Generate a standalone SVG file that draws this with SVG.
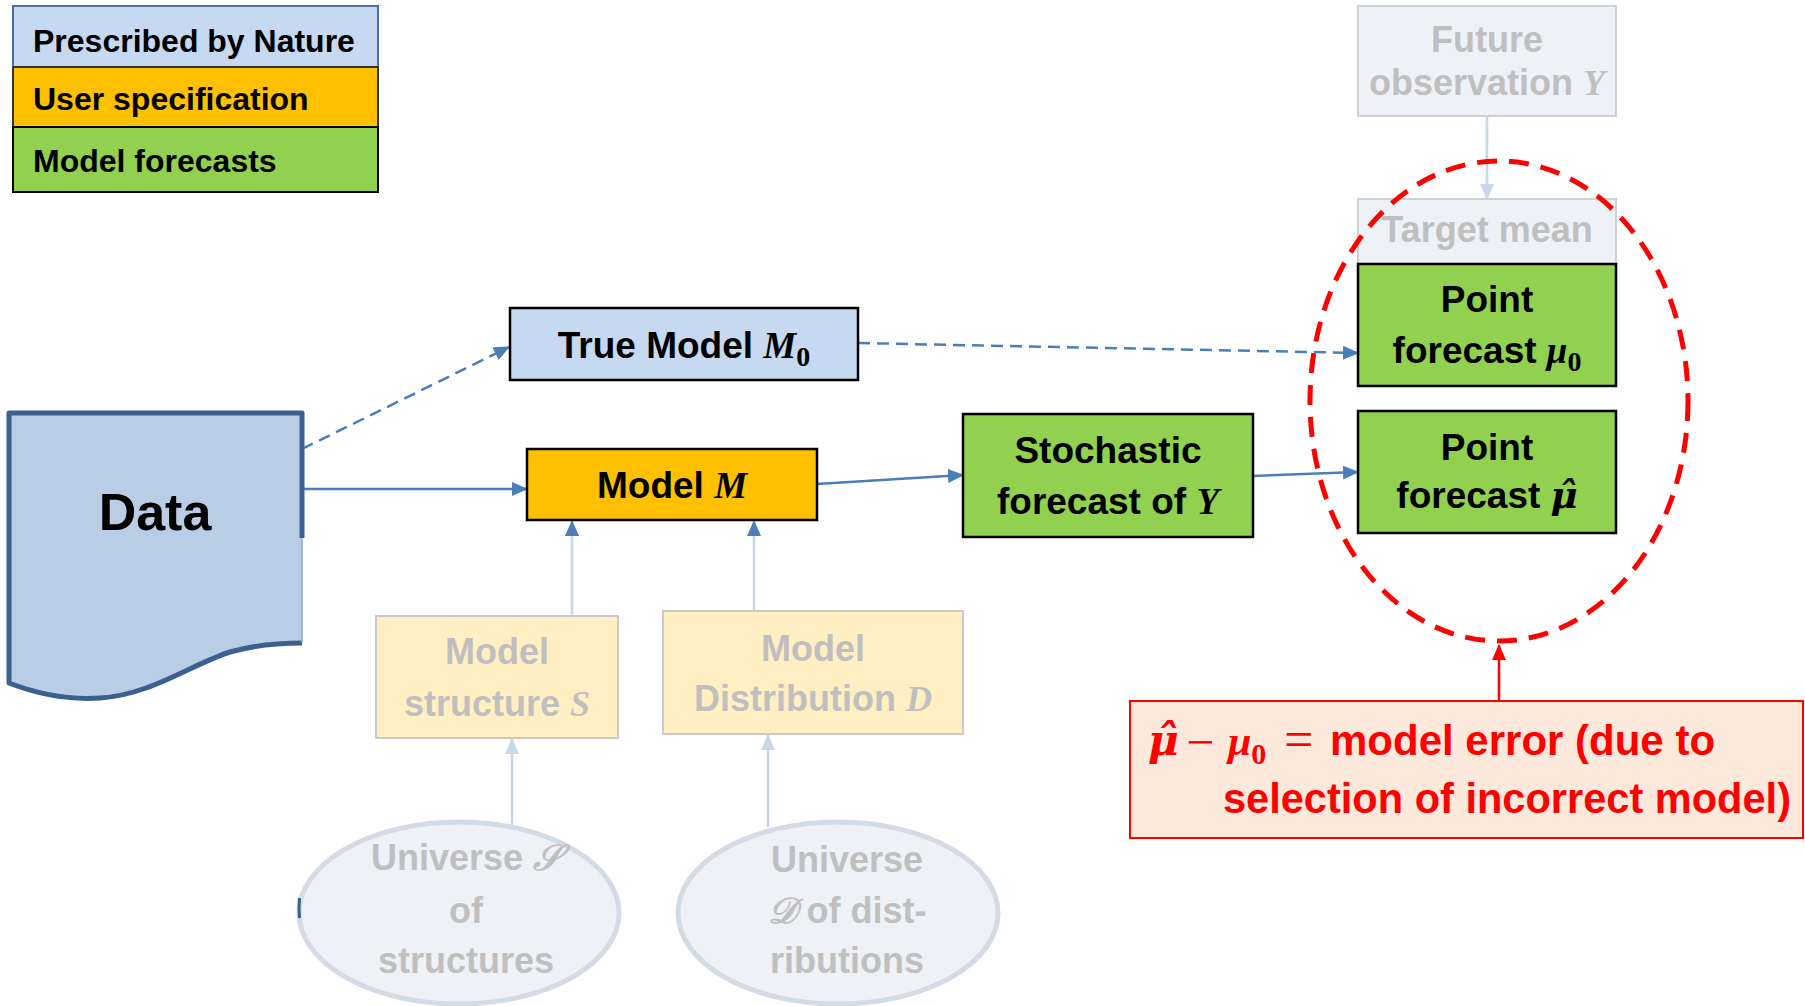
<svg xmlns="http://www.w3.org/2000/svg" width="1805" height="1006" viewBox="0 0 1805 1006">
  <style>
    .t { font-family: "Liberation Sans", Arial, sans-serif; font-weight: bold; }
    .m { font-family: "Liberation Serif", "DejaVu Serif", serif; font-style: italic; font-weight: bold; }
    .hat { font-family: "DejaVu Serif", "Liberation Serif", serif; font-style: italic; font-weight: bold; }
    .sub { font-family: "Liberation Serif", "DejaVu Serif", serif; font-style: normal; font-weight: bold; }
    .op { font-family: "Liberation Serif", "DejaVu Serif", serif; font-style: normal; font-weight: normal; }
    .lbl { font-size: 37px; fill: #000; text-anchor: middle; }
    .dim { font-size: 36px; fill: #BFBFBF; text-anchor: middle; }
    .leg { font-size: 32px; fill: #000; }
    .red { font-size: 42px; fill: #FF0000; }
    .blue { fill: #C6D9F1; stroke: #000; stroke-width: 2.5; }
    .gold { fill: #FFC000; stroke: #000; stroke-width: 2.5; }
    .green { fill: #92D050; stroke: #000; stroke-width: 2.5; }
    .fadeY { fill: #FFEFC3; stroke: #C9C9C9; stroke-width: 2; }
    .fadeB { fill: #EEF2F7; stroke: #D0D0D0; stroke-width: 2; }
    .uni { fill: #EEF2F7; stroke: #D3DBE6; stroke-width: 5; }
    .conn { stroke: #4A7EBB; stroke-width: 2.5; fill: none; }
    .dash { stroke-dasharray: 12 7; }
    .faint { stroke: #C8D7EA; stroke-width: 2.5; fill: none; }
  </style>
  <defs>
    <marker id="ah" markerUnits="userSpaceOnUse" markerWidth="16" markerHeight="14" refX="15" refY="7" orient="auto">
      <path d="M0,0 L16,7 L0,14 Z" fill="#4A7EBB"/>
    </marker>
    <marker id="ahFaint" markerUnits="userSpaceOnUse" markerWidth="16" markerHeight="14" refX="15" refY="7" orient="auto">
      <path d="M0,0 L16,7 L0,14 Z" fill="#C8D7EA"/>
    </marker>
    <marker id="ahRed" markerUnits="userSpaceOnUse" markerWidth="16" markerHeight="14" refX="15" refY="7" orient="auto">
      <path d="M0,0 L16,7 L0,14 Z" fill="#FF0000"/>
    </marker>
  </defs>

  <rect width="1805" height="1006" fill="#FFFFFF"/>

  <!-- legend -->
  <g id="legend">
    <rect x="13" y="6" width="365" height="61" fill="#C6D9F1" stroke="#4F6FA0" stroke-width="2"/>
    <rect x="13" y="67" width="365" height="60" fill="#FFC000" stroke="#333" stroke-width="2"/>
    <rect x="13" y="127" width="365" height="65" fill="#92D050" stroke="#000" stroke-width="2"/>
    <text class="t leg" x="33" y="52">Prescribed by Nature</text>
    <text class="t leg" x="33" y="110">User specification</text>
    <text class="t leg" x="33" y="172">Model forecasts</text>
  </g>

  <!-- connectors -->
  <g id="connectors">
    <path class="conn dash" d="M302,449 L509,347" marker-end="url(#ah)"/>
    <path class="conn" d="M302,489 L527,489" marker-end="url(#ah)"/>
    <path class="conn dash" d="M858,343 L1358,353" marker-end="url(#ah)"/>
    <path class="conn" d="M817,484 L963,475" marker-end="url(#ah)"/>
    <path class="conn" d="M1253,476 L1358,472" marker-end="url(#ah)"/>
    <path class="faint" d="M572,616 L572,521" marker-end="url(#ah)"/>
    <path class="faint" d="M754,611 L754,521" marker-end="url(#ah)"/>
    <path class="faint" d="M512,825 L512,739" marker-end="url(#ahFaint)"/>
    <path class="faint" d="M768,827 L768,735" marker-end="url(#ahFaint)"/>
    <path class="faint" d="M1487,116 L1487,199" marker-end="url(#ahFaint)"/>
    <path d="M1499,701 L1499,645" stroke="#FF0000" stroke-width="2.5" fill="none" marker-end="url(#ahRed)"/>
  </g>

  <!-- data document shape -->
  <g id="data">
    <path d="M9,413 H302 V643 C280,643 255,645 230,652 C190,665 150,695 100,698 C70,700 40,695 9,683 Z" fill="#B9CDE5"/>
    <path d="M302,538 V413 H9 V683 C40,695 70,700 100,698 C150,695 190,665 230,652 C255,645 280,643 302,643" fill="none" stroke="#3B5F8F" stroke-width="5" stroke-linejoin="round"/>
    <path d="M302,643 V538" stroke="#8DA6C6" stroke-width="1.5"/>
    <text class="t" x="155" y="530" font-size="52" text-anchor="middle">Data</text>
  </g>

  <g id="true-model">
    <rect class="blue" x="510" y="308" width="348" height="72"/>
    <text class="t lbl" x="684" y="358">True Model <tspan class="m">M</tspan><tspan class="sub" font-size="28" dy="8">0</tspan></text>
  </g>

  <g id="model-m">
    <rect class="gold" x="527" y="449" width="290" height="71"/>
    <text class="t lbl" x="672" y="498">Model <tspan class="m">M</tspan></text>
  </g>

  <g id="stochastic-forecast">
    <rect class="green" x="963" y="414" width="290" height="123"/>
    <text class="t lbl" x="1108" y="463">Stochastic</text>
    <text class="t lbl" x="1108" y="514">forecast of <tspan class="m">Y</tspan></text>
  </g>

  <g id="future-observation">
    <rect class="fadeB" x="1358" y="6" width="258" height="110"/>
    <text class="t dim" x="1487" y="52">Future</text>
    <text class="t dim" x="1487" y="95">observation <tspan class="m">Y</tspan></text>
  </g>

  <g id="target-mean">
    <rect class="fadeB" x="1358" y="199" width="258" height="70"/>
    <text class="t dim" x="1487" y="242">Target mean</text>
  </g>

  <g id="point-forecast-mu0">
    <rect class="green" x="1358" y="264" width="258" height="122"/>
    <text class="t lbl" x="1487" y="312">Point</text>
    <text class="t lbl" x="1487" y="363">forecast <tspan class="m">μ</tspan><tspan class="sub" font-size="28" dy="8">0</tspan></text>
  </g>

  <g id="point-forecast-muhat">
    <rect class="green" x="1358" y="411" width="258" height="122"/>
    <text class="t lbl" x="1487" y="460">Point</text>
    <text class="t lbl" x="1487" y="508">forecast <tspan class="hat">μ̂</tspan></text>
  </g>

  <g id="model-structure">
    <rect class="fadeY" x="376" y="616" width="242" height="122"/>
    <text class="t dim" x="497" y="664">Model</text>
    <text class="t dim" x="497" y="716">structure <tspan class="m">S</tspan></text>
  </g>

  <g id="model-distribution">
    <rect class="fadeY" x="663" y="611" width="300" height="123"/>
    <text class="t dim" x="813" y="661">Model</text>
    <text class="t dim" x="813" y="711">Distribution <tspan class="m">D</tspan></text>
  </g>

  <g id="universe-s">
    <ellipse class="uni" cx="459" cy="913" rx="160" ry="91"/>
    <path d="M299.5,898 Q298.5,908 299.5,918" stroke="#3B5F8F" stroke-width="3" fill="none"/>
    <text class="t dim" x="466" y="870">Universe <tspan class="m">𝒮</tspan></text>
    <text class="t dim" x="466" y="923">of</text>
    <text class="t dim" x="466" y="973">structures</text>
  </g>

  <g id="universe-d">
    <ellipse class="uni" cx="838" cy="913" rx="160" ry="91"/>
    <text class="t dim" x="847" y="872">Universe</text>
    <text class="t dim" x="847" y="923"><tspan class="m">𝒟</tspan> of dist-</text>
    <text class="t dim" x="847" y="973">ributions</text>
  </g>

  <!-- highlight around the two point forecasts -->
  <ellipse id="error-ring" cx="1499" cy="401" rx="189" ry="240" fill="none" stroke="#FF0000" stroke-width="5" stroke-dasharray="20 12"/>

  <g id="model-error-note">
    <rect x="1130" y="701" width="673" height="137" fill="#FCE9DC" stroke="#FF0000" stroke-width="2"/>
    <text class="t red" y="755"><tspan class="hat" x="1148">μ̂</tspan><tspan class="op" font-size="50" x="1186" dy="4">−</tspan><tspan class="m" x="1228" dy="-4">μ</tspan><tspan class="sub" font-size="30" dy="9">0</tspan><tspan class="op" font-size="52" x="1284" dy="-7">=</tspan><tspan x="1330" dy="-2">model error (due to</tspan></text>
    <text class="t red" x="1223" y="813" textLength="568" lengthAdjust="spacingAndGlyphs">selection of incorrect model)</text>
  </g>
</svg>
